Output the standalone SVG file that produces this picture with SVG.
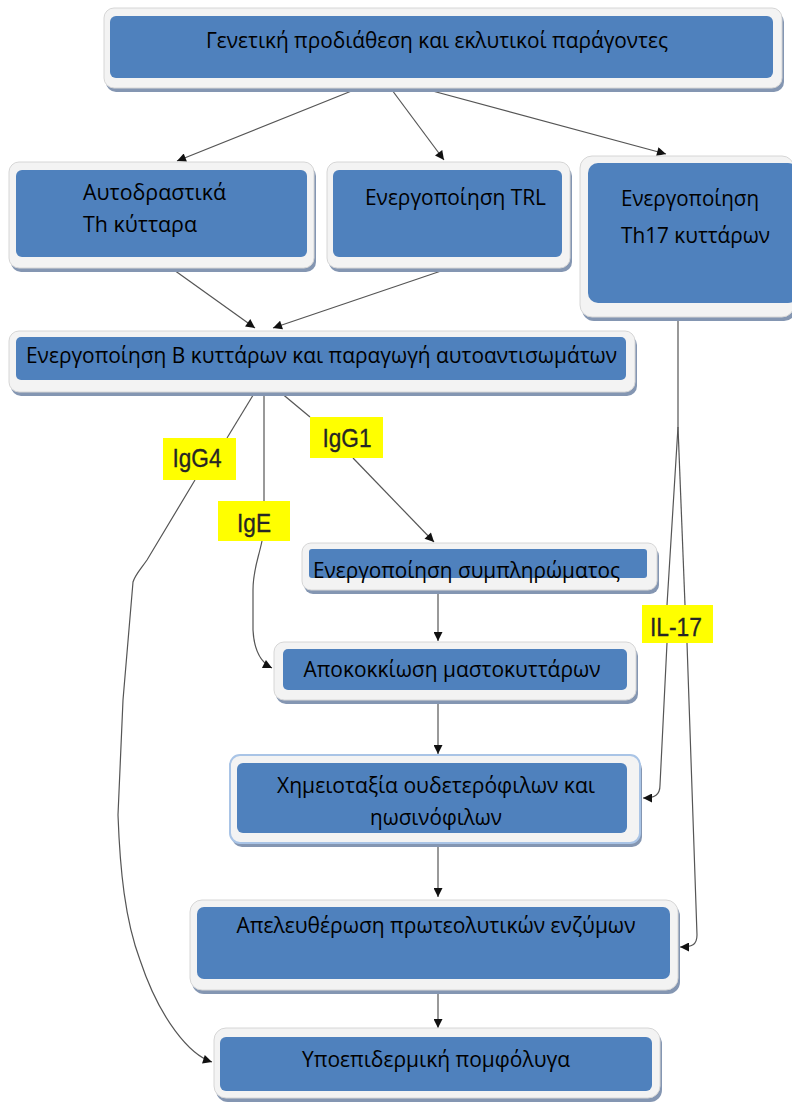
<svg xmlns="http://www.w3.org/2000/svg" width="792" height="1102" viewBox="0 0 792 1102">
<defs>
<marker id="ah" viewBox="0 0 10 10" refX="10" refY="5" markerWidth="12" markerHeight="9" markerUnits="userSpaceOnUse" orient="auto">
<path d="M0,0 L10,5 L0,10 z" fill="#111"/>
</marker>
</defs>
<style>
.sh{fill:#8496b2}
.fr{fill:#f3f3f3;stroke:#d6d6d6;stroke-width:1}
.bl{fill:#4f81bd}
.t{font-family:"Open Sans","Noto Sans",sans-serif;font-size:22px;fill:#000}
.lb{fill:#ffff00}
.lt{font-family:"Liberation Sans",Arial,sans-serif;font-size:25px;fill:#262626;stroke:#262626;stroke-width:0.3}
.c{fill:none;stroke:#555;stroke-width:1.2}
.ca{fill:none;stroke:#555;stroke-width:1.2;marker-end:url(#ah)}
</style>
<rect width="792" height="1102" fill="#fff"/>

<g id="connectors">
<path class="ca" d="M364,86 L177,161"/>
<path class="ca" d="M389,86 L444,160"/>
<path class="ca" d="M414,86 L666,154"/>
<path class="ca" d="M174,270 L255,328"/>
<path class="ca" d="M444,270 L273,328"/>
<path class="c" d="M255,392 L227,438"/>
<path class="ca" d="M195,480 L147,560 C140,570 135,575 133,582 L123,700 L118,815 C120,870 125,920 140,960 C160,1020 190,1055 212,1062"/>
<path class="c" d="M264,392 L264,501"/>
<path class="ca" d="M262,541 C258,560 253,570 253,590 L253,630 C254,650 260,662 272,668"/>
<path class="c" d="M280,392 L310,417"/>
<path class="ca" d="M353,458 L434,542"/>
<path class="ca" d="M438,590 L438,641"/>
<path class="ca" d="M438,700 L438,754"/>
<path class="ca" d="M438,843 L438,897"/>
<path class="ca" d="M438,990 L438,1028"/>
<path class="c" d="M678,317 L678,427 L667,605"/>
<path class="c" d="M678,427 L685,605"/>
<path class="ca" d="M667,643 L660,785 C660,795 655,798 643,798"/>
<path class="ca" d="M687,643 L697,935 C697,945 692,947 680,947"/>
</g>

<g id="n-top">
<rect class="sh" x="106" y="12" width="678" height="80" rx="10"/>
<rect class="fr" x="104" y="8" width="678" height="80" rx="10"/>
<rect class="bl" x="110" y="16" width="663" height="62" rx="6"/>
<text class="t" x="437" y="48" text-anchor="middle" textLength="462" lengthAdjust="spacingAndGlyphs">Γενετική προδιάθεση και εκλυτικοί παράγοντες</text>
</g>

<g id="n-autoreactive">
<rect class="sh" x="11" y="166" width="305" height="106" rx="10"/>
<rect class="fr" x="9" y="162" width="305" height="106" rx="10"/>
<rect class="bl" x="16" y="170" width="291" height="87" rx="6"/>
<text class="t" x="83" y="200" textLength="143" lengthAdjust="spacingAndGlyphs">Αυτοδραστικά</text>
<text class="t" x="83" y="232" textLength="114" lengthAdjust="spacingAndGlyphs">Th κύτταρα</text>
</g>

<g id="n-trl">
<rect class="sh" x="329" y="166" width="243" height="106" rx="10"/>
<rect class="fr" x="327" y="162" width="243" height="106" rx="10"/>
<rect class="bl" x="333" y="170" width="229" height="87" rx="6"/>
<text class="t" x="365" y="205" textLength="181" lengthAdjust="spacingAndGlyphs">Ενεργοποίηση TRL</text>
</g>

<g id="n-th17">
<rect class="sh" x="582" y="160" width="214" height="161" rx="12"/>
<rect class="fr" x="580" y="156" width="214" height="161" rx="12"/>
<rect class="bl" x="588" y="163" width="210" height="140" rx="10"/>
<text class="t" x="621" y="206" textLength="138" lengthAdjust="spacingAndGlyphs">Ενεργοποίηση</text>
<text class="t" x="621" y="243" textLength="149" lengthAdjust="spacingAndGlyphs">Th17 κυττάρων</text>
</g>

<g id="n-bcell">
<rect class="sh" x="11" y="335" width="626" height="61" rx="10"/>
<rect class="fr" x="9" y="331" width="626" height="61" rx="10"/>
<rect class="bl" x="16" y="337" width="610" height="43" rx="5"/>
<text class="t" x="26" y="363" textLength="591" lengthAdjust="spacingAndGlyphs">Ενεργοποίηση B κυττάρων και παραγωγή αυτοαντισωμάτων</text>
</g>

<g id="l-igg4">
<rect class="lb" x="163" y="438" width="73" height="42"/>
<text class="lt" x="197" y="467" text-anchor="middle" textLength="49" lengthAdjust="spacingAndGlyphs">IgG4</text>
</g>
<g id="l-ige">
<rect class="lb" x="218" y="501" width="72" height="40"/>
<text class="lt" x="254" y="532" text-anchor="middle" textLength="34" lengthAdjust="spacingAndGlyphs">IgE</text>
</g>
<g id="l-igg1">
<rect class="lb" x="310" y="417" width="73" height="41"/>
<text class="lt" x="347" y="447" text-anchor="middle" textLength="49" lengthAdjust="spacingAndGlyphs">IgG1</text>
</g>
<g id="l-il17">
<rect class="lb" x="642" y="605" width="71" height="38"/>
<text class="lt" x="676" y="636" text-anchor="middle" textLength="52" lengthAdjust="spacingAndGlyphs">IL-17</text>
</g>

<g id="n-complement">
<rect class="sh" x="304" y="547" width="355" height="47" rx="9"/>
<rect class="fr" x="302" y="543" width="355" height="47" rx="9"/>
<rect class="bl" x="309" y="549" width="338" height="29" rx="3"/>
<text class="t" x="313" y="578" textLength="307" lengthAdjust="spacingAndGlyphs">Ενεργοποίηση συμπληρώματος</text>
</g>

<g id="n-mast">
<rect class="sh" x="276" y="646" width="362" height="58" rx="10"/>
<rect class="fr" x="274" y="642" width="362" height="58" rx="10"/>
<rect class="bl" x="283" y="649" width="344" height="41" rx="5"/>
<text class="t" x="452" y="677" text-anchor="middle" textLength="297" lengthAdjust="spacingAndGlyphs">Αποκοκκίωση μαστοκυττάρων</text>
</g>

<g id="n-chemo">
<rect class="sh" x="232" y="759" width="410" height="88" rx="10"/>
<rect class="fr" x="230" y="755" width="410" height="88" rx="10" style="stroke:#a9c4e6;stroke-width:2"/>
<rect class="bl" x="237" y="763" width="390" height="70" rx="6"/>
<text class="t" x="436" y="793" text-anchor="middle" textLength="318" lengthAdjust="spacingAndGlyphs">Χημειοταξία ουδετερόφιλων και</text>
<text class="t" x="436" y="825" text-anchor="middle" textLength="132" lengthAdjust="spacingAndGlyphs">ηωσινόφιλων</text>
</g>

<g id="n-proteo">
<rect class="sh" x="192" y="904" width="488" height="90" rx="12"/>
<rect class="fr" x="190" y="900" width="488" height="90" rx="12"/>
<rect class="bl" x="197" y="907" width="473" height="72" rx="7"/>
<text class="t" x="436" y="933" text-anchor="middle" textLength="399" lengthAdjust="spacingAndGlyphs">Απελευθέρωση πρωτεολυτικών ενζύμων</text>
</g>

<g id="n-blister">
<rect class="sh" x="216" y="1032" width="446" height="70" rx="12"/>
<rect class="fr" x="214" y="1028" width="446" height="70" rx="12"/>
<rect class="bl" x="220" y="1037" width="432" height="54" rx="6"/>
<text class="t" x="436" y="1067" text-anchor="middle" textLength="268" lengthAdjust="spacingAndGlyphs">Υποεπιδερμική πομφόλυγα</text>
</g>
</svg>
